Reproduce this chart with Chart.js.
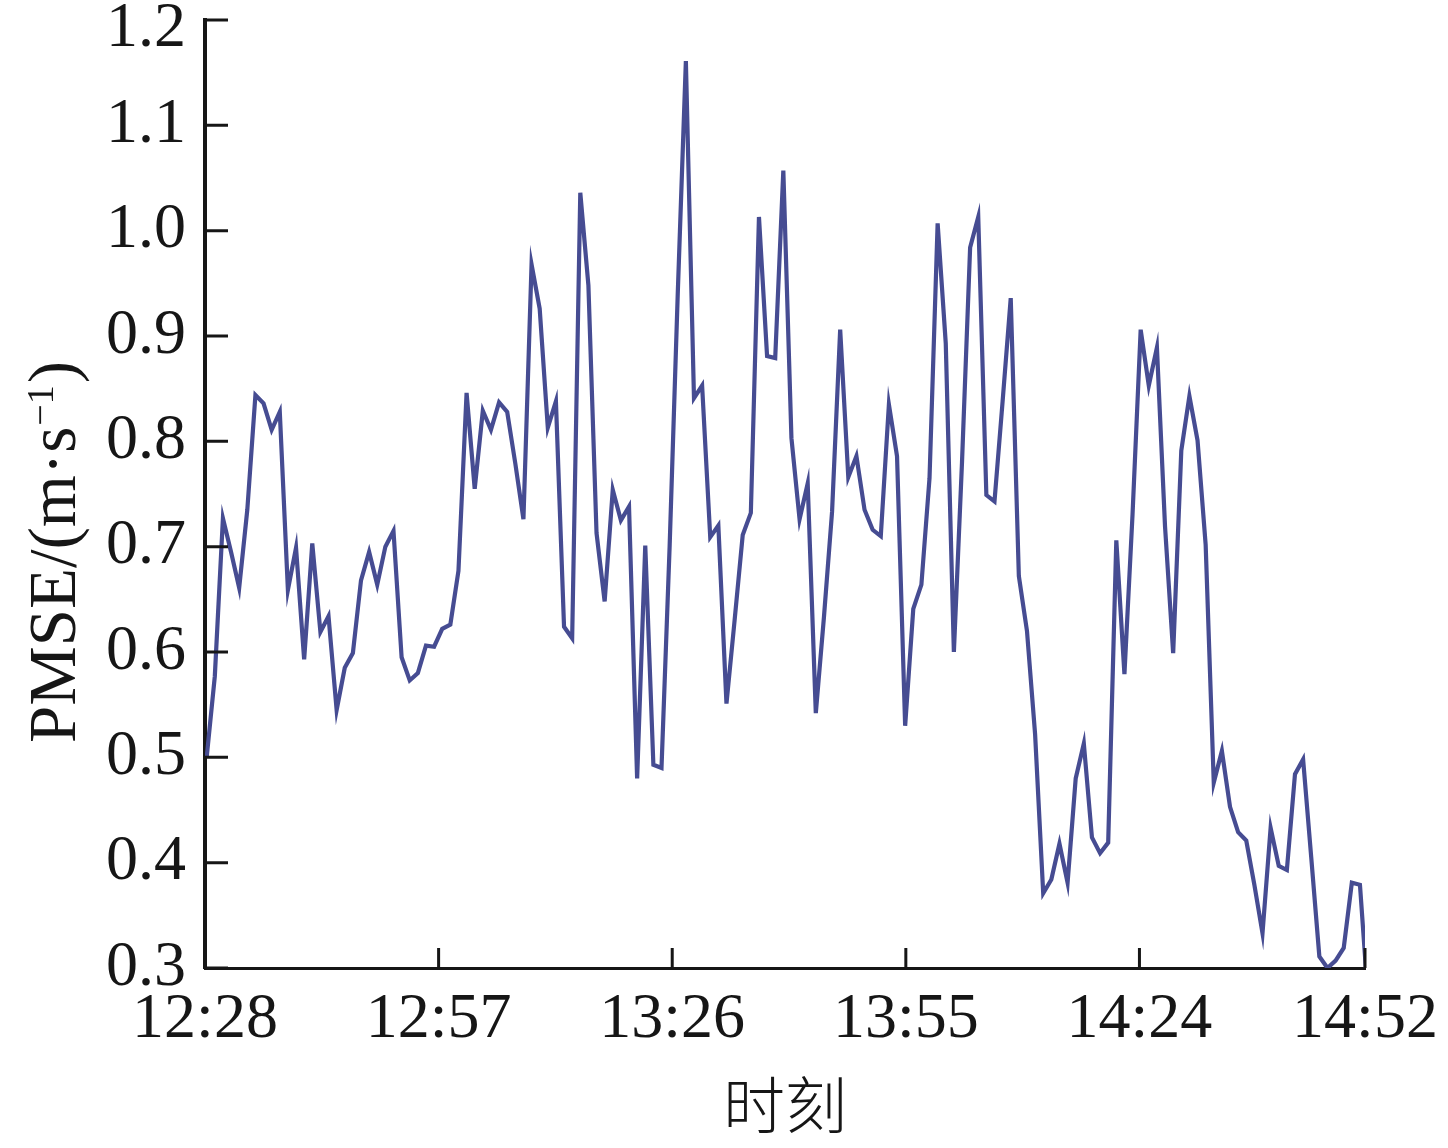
<!DOCTYPE html>
<html>
<head>
<meta charset="utf-8">
<script src="https://cdn.jsdelivr.net/npm/chart.js@4/dist/chart.umd.min.js"></script>
<style>
  html, body { margin: 0; padding: 0; background: #ffffff; }
  #wrap { width: 1448px; height: 1148px; position: relative; }
</style>
</head>
<body>
<div id="wrap"><canvas id="c" width="1448" height="1148"></canvas></div>
<script>
// ---- data ----
const pmseValues = [
  0.500, 0.577, 0.727, 0.695, 0.661, 0.735, 0.844, 0.836, 0.811, 0.828,
  0.659, 0.699, 0.593, 0.703, 0.619, 0.634, 0.545, 0.585, 0.599, 0.668,
  0.695, 0.664, 0.700, 0.715, 0.595, 0.573, 0.580, 0.606, 0.605, 0.622,
  0.626, 0.677, 0.846, 0.755, 0.829, 0.811, 0.837, 0.828, 0.779, 0.726,
  0.968, 0.926, 0.813, 0.838, 0.624, 0.613, 1.036, 0.948, 0.713, 0.648,
  0.754, 0.725, 0.738, 0.480, 0.701, 0.493, 0.490, 0.700, 0.940, 1.161,
  0.841, 0.853, 0.709, 0.720, 0.551, 0.630, 0.711, 0.732, 1.013, 0.881,
  0.879, 1.057, 0.803, 0.726, 0.760, 0.542, 0.633, 0.733, 0.906, 0.766,
  0.786, 0.735, 0.716, 0.710, 0.835, 0.786, 0.530, 0.641, 0.664, 0.765,
  1.007, 0.893, 0.600, 0.780, 0.984, 1.013, 0.749, 0.743, 0.838, 0.936,
  0.672, 0.620, 0.522, 0.371, 0.384, 0.418, 0.381, 0.480, 0.513, 0.424,
  0.409, 0.419, 0.706, 0.579, 0.731, 0.906, 0.853, 0.889, 0.719, 0.599,
  0.791, 0.843, 0.801, 0.702, 0.476, 0.506, 0.453, 0.429, 0.421, 0.379,
  0.333, 0.433, 0.397, 0.393, 0.484, 0.498, 0.405, 0.311, 0.300, 0.307,
  0.319, 0.381, 0.379, 0.270
];
// sampling: minutes after 12:28 of the first sample, and spacing between samples
const SAMPLE_START_MIN = 0.21;
const SAMPLE_STEP_MIN = 1.0082;

const xTickMinutes = [0, 29, 58, 87, 116, 144];
const xTickLabels = ['12:28', '12:57', '13:26', '13:55', '14:24', '14:52'];
const yTickValues = [0.3, 0.4, 0.5, 0.6, 0.7, 0.8, 0.9, 1.0, 1.1, 1.2];

const xTitleText = '时刻';
const yTitleMain = 'PMSE/(m·s';
const yTitleSup = '−1';
const yTitleEnd = ')';

// ---- chart ----
const serif = "'Liberation Serif', 'DejaVu Serif', serif";
const ink = '#161616';
const lineColor = '#464c92';

const points = pmseValues.map((v, i) => ({ x: SAMPLE_START_MIN + i * SAMPLE_STEP_MIN, y: v }));
const topY = yTickValues[yTickValues.length - 1];

const axisDecor = {
  id: 'axisDecor',
  afterDraw(chart) {
    const { ctx, chartArea: a, scales: { x, y } } = chart;
    ctx.save();
    // inward tick marks
    ctx.strokeStyle = ink;
    ctx.lineWidth = 3;
    ctx.beginPath();
    for (const v of yTickValues) {
      const py = y.getPixelForValue(v);
      ctx.moveTo(a.left, py);
      ctx.lineTo(a.left + 23, py);
    }
    for (const v of xTickMinutes) {
      const px = x.getPixelForValue(v);
      ctx.moveTo(px, a.bottom);
      ctx.lineTo(px, a.bottom - 20);
    }
    ctx.stroke();

    // y axis title (rotated, with superscript)
    ctx.fillStyle = ink;
    ctx.textBaseline = 'alphabetic';
    ctx.textAlign = 'left';
    const mainFont = '67px ' + serif;
    const supFont = '38px ' + serif;
    ctx.font = mainFont;
    const w1 = ctx.measureText(yTitleMain).width;
    const w3 = ctx.measureText(yTitleEnd).width;
    ctx.font = supFont;
    const w2 = ctx.measureText(yTitleSup).width;
    const total = w1 + w2 + w3 + 3;
    ctx.translate(75, 552);
    ctx.rotate(-Math.PI / 2);
    let lx = -total / 2;
    ctx.font = mainFont;
    ctx.fillText(yTitleMain, lx, 0);
    lx += w1 + 1;
    ctx.font = supFont;
    ctx.fillText(yTitleSup, lx, -22);
    lx += w2 + 2;
    ctx.font = mainFont;
    ctx.fillText(yTitleEnd, lx, 0);
    ctx.setTransform(1, 0, 0, 1, 0, 0);

    // x axis title
    ctx.font = "300 62px 'Noto Sans CJK SC', sans-serif";
    ctx.textAlign = 'center';
    ctx.textBaseline = 'middle';
    ctx.fillText(xTitleText, (a.left + a.right) / 2, 1105);
    ctx.restore();
  }
};

new Chart(document.getElementById('c'), {
  type: 'line',
  data: {
    datasets: [{
      data: points,
      borderColor: lineColor,
      borderWidth: 4.2,
      borderJoinStyle: 'miter',
      pointRadius: 0,
      tension: 0,
      fill: false
    }]
  },
  options: {
    responsive: false,
    animation: false,
    devicePixelRatio: 1,
    layout: { padding: { left: 0, top: 20, right: 83, bottom: 0 } },
    plugins: { legend: { display: false }, tooltip: { enabled: false } },
    scales: {
      x: {
        type: 'linear',
        min: 0,
        max: 144,
        afterBuildTicks: (s) => { s.ticks = xTickMinutes.map(v => ({ value: v })); },
        afterFit: (s) => { s.height = 180; s.paddingLeft = 0; s.paddingRight = 0; },
        grid: { display: false, drawTicks: false },
        border: { display: true, color: ink, width: 3 },
        ticks: {
          padding: 14,
          maxRotation: 0,
          autoSkip: false,
          color: ink,
          font: { family: serif, size: 64 },
          callback: (v) => xTickLabels[xTickMinutes.indexOf(v)]
        }
      },
      y: {
        type: 'linear',
        min: 0.3,
        max: 1.2,
        afterBuildTicks: (s) => { s.ticks = yTickValues.map(v => ({ value: v })); },
        afterFit: (s) => { s.width = 205; s.paddingTop = 0; s.paddingBottom = 0; },
        grid: { display: false, drawTicks: false },
        border: { display: true, color: ink, width: 4 },
        ticks: {
          padding: 19,
          autoSkip: false,
          color: ink,
          // the top label sits a little lower so that it stays inside the picture
          font: (c) => (c.tick && Math.abs(c.tick.value - topY) < 1e-9)
            ? { family: serif, size: 64, lineHeight: 0.3 }
            : { family: serif, size: 64 },
          callback: (v) => Math.abs(v - topY) < 1e-9 ? ['', Number(v).toFixed(1)] : Number(v).toFixed(1)
        }
      }
    }
  },
  plugins: [axisDecor]
});
</script>
</body>
</html>
